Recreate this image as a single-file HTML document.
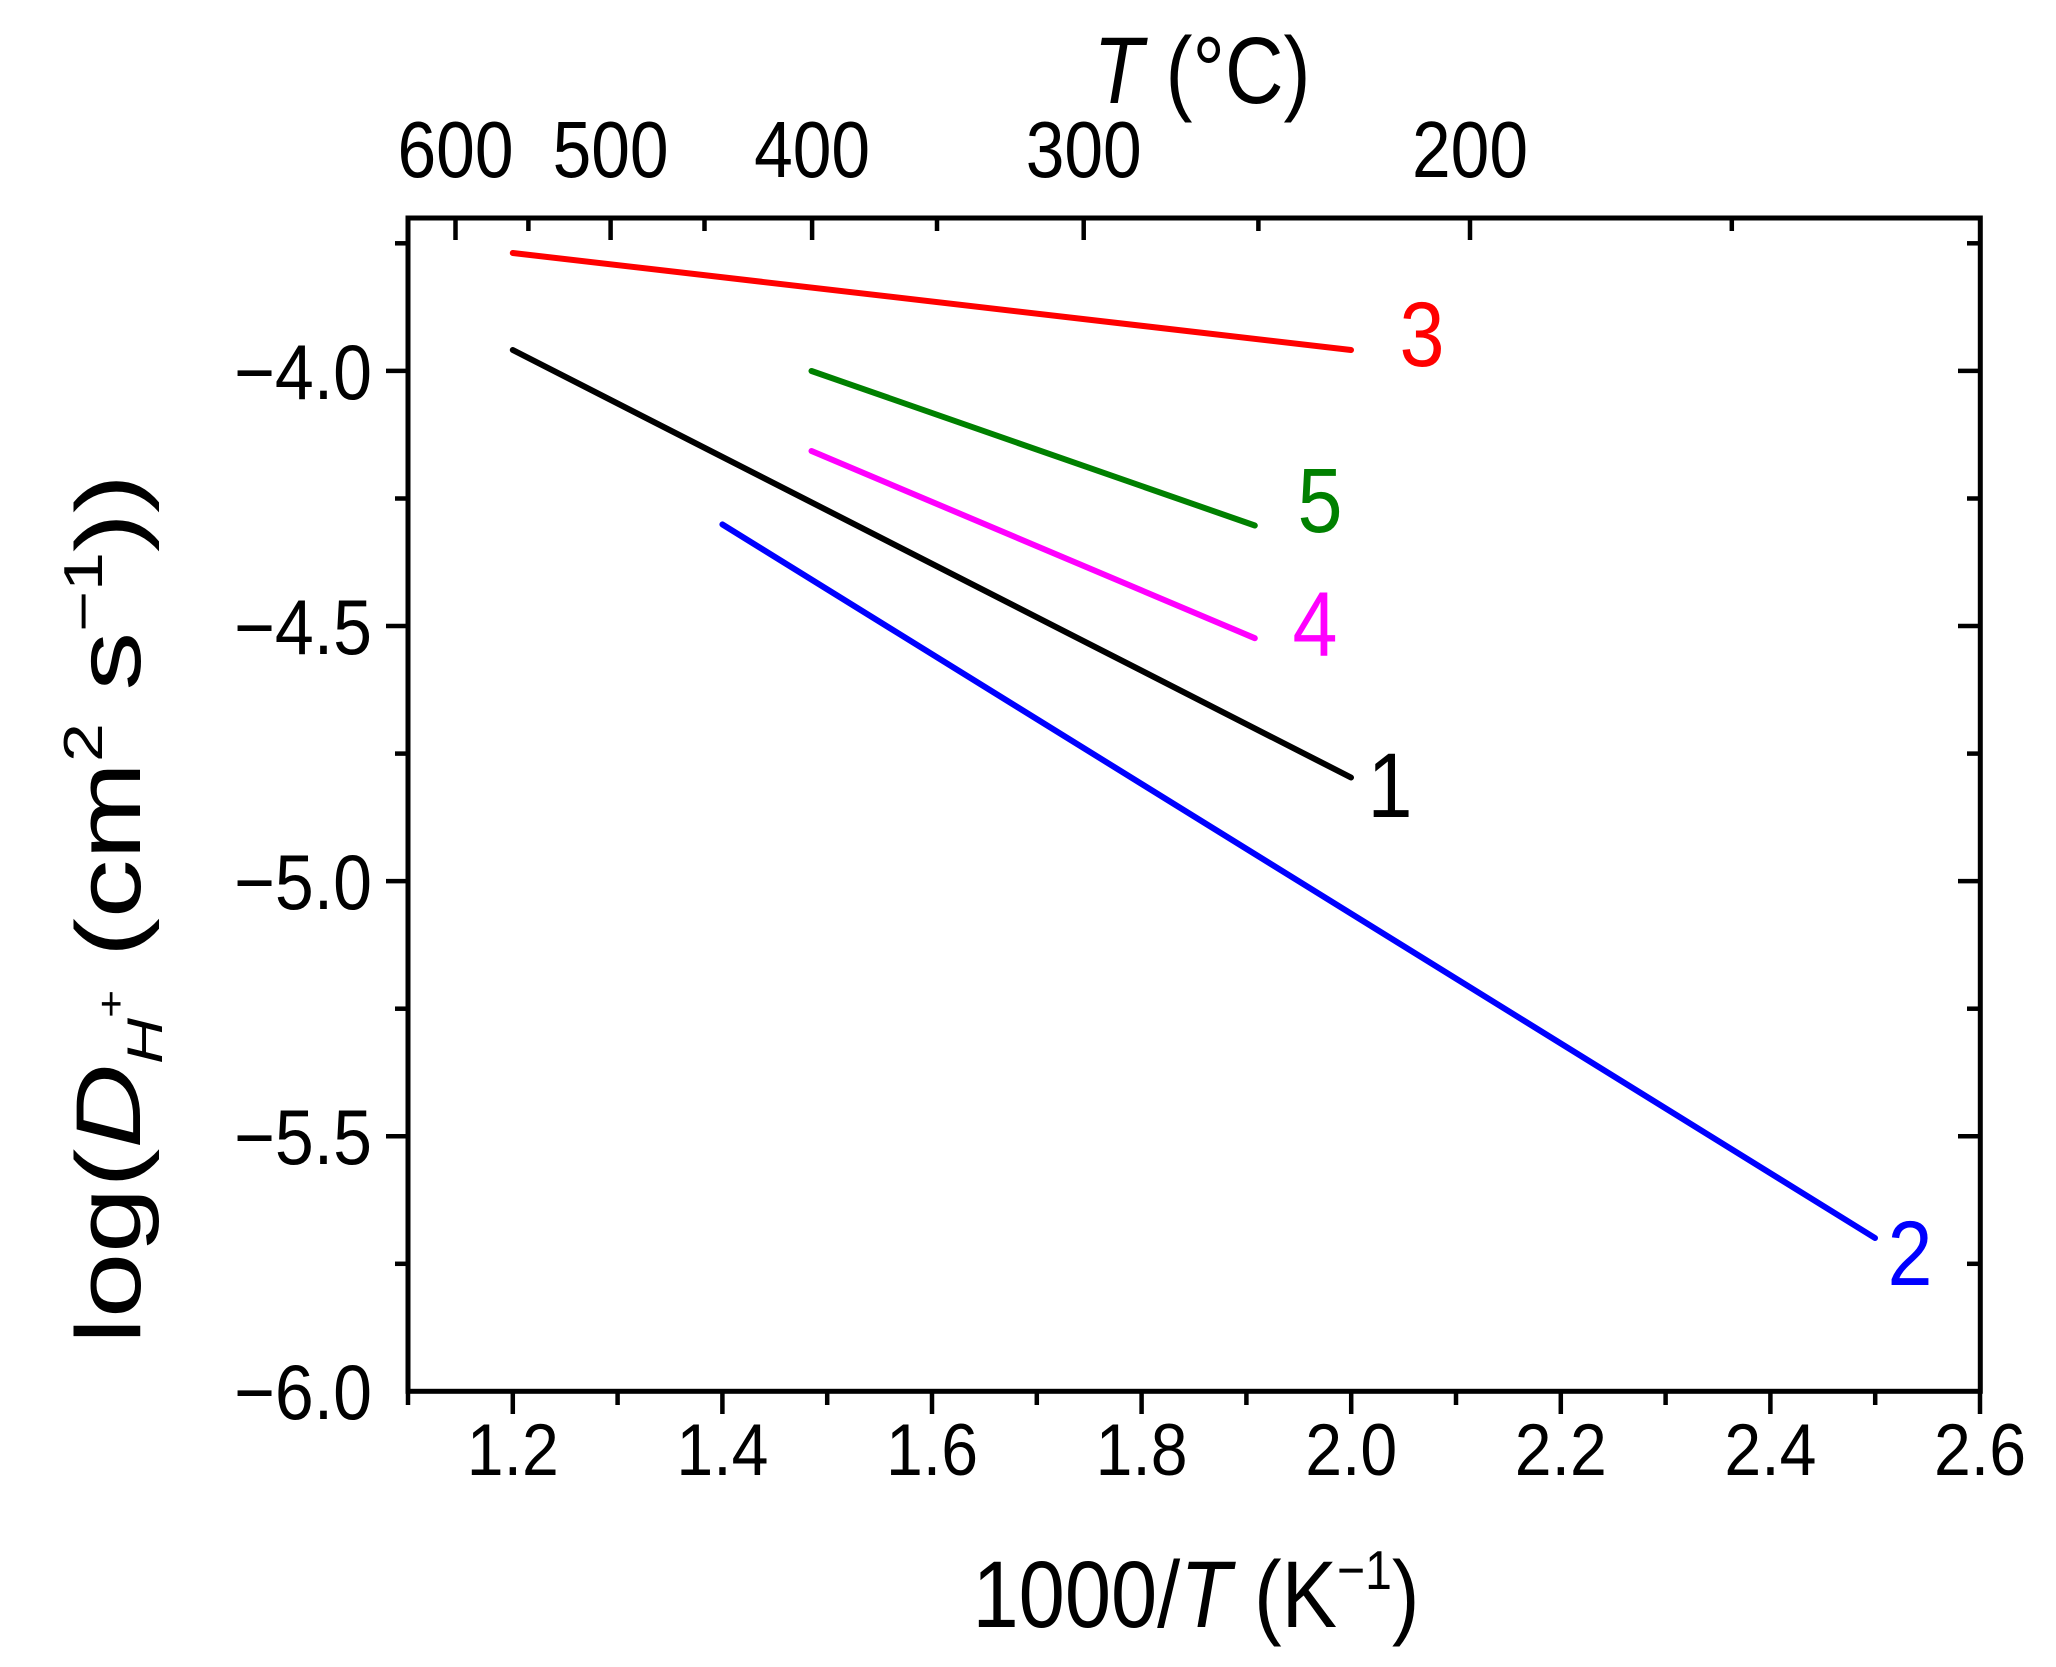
<!DOCTYPE html>
<html><head><meta charset="utf-8"><style>html,body{margin:0;padding:0;background:#fff}svg{display:block}</style></head>
<body>
<svg width="2056" height="1667" viewBox="0 0 2056 1667" xmlns="http://www.w3.org/2000/svg" font-family="Liberation Sans, Arial, sans-serif">
<rect width="2056" height="1667" fill="#fff"/>
<g stroke-width="6" stroke-linecap="round" fill="none">
<line x1="512.8" y1="253" x2="1351" y2="350" stroke="#ff0000"/>
<line x1="512.8" y1="350" x2="1351" y2="777.5" stroke="#000"/>
<line x1="811.5" y1="371" x2="1254.8" y2="525.5" stroke="#008000"/>
<line x1="811.5" y1="451" x2="1254.8" y2="638.2" stroke="#ff00ff"/>
<line x1="722.4" y1="524.4" x2="1875" y2="1238" stroke="#0000ff"/>
</g>
<rect x="408" y="218" width="1572.3" height="1173.3" fill="none" stroke="#000" stroke-width="5"/>
<g stroke="#000" stroke-width="4.5">
<line x1="408" y1="1391" x2="408" y2="1405"/>
<line x1="512.8" y1="1391" x2="512.8" y2="1414"/>
<line x1="617.6" y1="1391" x2="617.6" y2="1405"/>
<line x1="722.4" y1="1391" x2="722.4" y2="1414"/>
<line x1="827.2" y1="1391" x2="827.2" y2="1405"/>
<line x1="932" y1="1391" x2="932" y2="1414"/>
<line x1="1036.8" y1="1391" x2="1036.8" y2="1405"/>
<line x1="1141.6" y1="1391" x2="1141.6" y2="1414"/>
<line x1="1246.4" y1="1391" x2="1246.4" y2="1405"/>
<line x1="1351.2" y1="1391" x2="1351.2" y2="1414"/>
<line x1="1456" y1="1391" x2="1456" y2="1405"/>
<line x1="1560.8" y1="1391" x2="1560.8" y2="1414"/>
<line x1="1665.6" y1="1391" x2="1665.6" y2="1405"/>
<line x1="1770.4" y1="1391" x2="1770.4" y2="1414"/>
<line x1="1875.2" y1="1391" x2="1875.2" y2="1405"/>
<line x1="1980" y1="1391" x2="1980" y2="1414"/>
<line x1="408" y1="243.3" x2="395" y2="243.3"/>
<line x1="408" y1="370.9" x2="386" y2="370.9"/>
<line x1="408" y1="498.5" x2="395" y2="498.5"/>
<line x1="408" y1="626" x2="386" y2="626"/>
<line x1="408" y1="753.6" x2="395" y2="753.6"/>
<line x1="408" y1="881.1" x2="386" y2="881.1"/>
<line x1="408" y1="1008.7" x2="395" y2="1008.7"/>
<line x1="408" y1="1136.2" x2="386" y2="1136.2"/>
<line x1="408" y1="1263.8" x2="395" y2="1263.8"/>
<line x1="1980" y1="243.3" x2="1967" y2="243.3"/>
<line x1="1980" y1="370.9" x2="1958" y2="370.9"/>
<line x1="1980" y1="498.5" x2="1967" y2="498.5"/>
<line x1="1980" y1="626" x2="1958" y2="626"/>
<line x1="1980" y1="753.6" x2="1967" y2="753.6"/>
<line x1="1980" y1="881.1" x2="1958" y2="881.1"/>
<line x1="1980" y1="1008.7" x2="1967" y2="1008.7"/>
<line x1="1980" y1="1136.2" x2="1958" y2="1136.2"/>
<line x1="1980" y1="1263.8" x2="1967" y2="1263.8"/>
<line x1="455.5" y1="218" x2="455.5" y2="240"/>
<line x1="528.4" y1="218" x2="528.4" y2="231"/>
<line x1="610.6" y1="218" x2="610.6" y2="240"/>
<line x1="704.5" y1="218" x2="704.5" y2="231"/>
<line x1="812.1" y1="218" x2="812.1" y2="240"/>
<line x1="937" y1="218" x2="937" y2="231"/>
<line x1="1083.7" y1="218" x2="1083.7" y2="240"/>
<line x1="1258.4" y1="218" x2="1258.4" y2="231"/>
<line x1="1470" y1="218" x2="1470" y2="240"/>
<line x1="1731.8" y1="218" x2="1731.8" y2="231"/>
</g>
<g font-size="73" text-anchor="middle" fill="#000">
<text x="512.8" y="1475" textLength="92" lengthAdjust="spacingAndGlyphs">1.2</text>
<text x="722.4" y="1475" textLength="92" lengthAdjust="spacingAndGlyphs">1.4</text>
<text x="932" y="1475" textLength="92" lengthAdjust="spacingAndGlyphs">1.6</text>
<text x="1141.6" y="1475" textLength="92" lengthAdjust="spacingAndGlyphs">1.8</text>
<text x="1351.2" y="1475" textLength="92" lengthAdjust="spacingAndGlyphs">2.0</text>
<text x="1560.8" y="1475" textLength="92" lengthAdjust="spacingAndGlyphs">2.2</text>
<text x="1770.4" y="1475" textLength="92" lengthAdjust="spacingAndGlyphs">2.4</text>
<text x="1980" y="1475" textLength="92" lengthAdjust="spacingAndGlyphs">2.6</text>
</g>
<g font-size="80" text-anchor="middle" fill="#000">
<text x="455.5" y="177" textLength="116" lengthAdjust="spacingAndGlyphs">600</text>
<text x="610.6" y="177" textLength="116" lengthAdjust="spacingAndGlyphs">500</text>
<text x="812.1" y="177" textLength="116" lengthAdjust="spacingAndGlyphs">400</text>
<text x="1083.7" y="177" textLength="116" lengthAdjust="spacingAndGlyphs">300</text>
<text x="1470" y="177" textLength="116" lengthAdjust="spacingAndGlyphs">200</text>
</g>
<g font-size="78" text-anchor="end" fill="#000">
<text x="372" y="399" textLength="138" lengthAdjust="spacingAndGlyphs">−4.0</text>
<text x="372" y="654" textLength="138" lengthAdjust="spacingAndGlyphs">−4.5</text>
<text x="372" y="909" textLength="138" lengthAdjust="spacingAndGlyphs">−5.0</text>
<text x="372" y="1164" textLength="138" lengthAdjust="spacingAndGlyphs">−5.5</text>
<text x="372" y="1419" textLength="138" lengthAdjust="spacingAndGlyphs">−6.0</text>
</g>
<text x="1196" y="1627" font-size="95" text-anchor="middle" textLength="447" lengthAdjust="spacingAndGlyphs">1000/<tspan font-style="italic">T</tspan> (K<tspan font-size="55" dy="-38">−1</tspan><tspan dy="38">)</tspan></text>
<text x="1202" y="103" font-size="95" text-anchor="middle" textLength="217" lengthAdjust="spacingAndGlyphs"><tspan font-style="italic">T</tspan> (°C)</text>
<text transform="translate(140,909) rotate(-90)" font-size="92" text-anchor="middle" textLength="870" lengthAdjust="spacingAndGlyphs">log(<tspan font-style="italic">D</tspan><tspan font-size="50" font-style="italic" dy="22">H</tspan><tspan font-size="38" dy="-38">+</tspan><tspan dy="16"> (cm</tspan><tspan font-size="55" dy="-38">2</tspan><tspan dy="38"> s</tspan><tspan font-size="55" dy="-38">−1</tspan><tspan dy="38">))</tspan></text>
<g font-size="92" text-anchor="middle">
<text x="1422" y="366" fill="#ff0000" textLength="45" lengthAdjust="spacingAndGlyphs">3</text>
<text x="1320" y="532" fill="#008000" textLength="45" lengthAdjust="spacingAndGlyphs">5</text>
<text x="1315" y="656" fill="#ff00ff" textLength="45" lengthAdjust="spacingAndGlyphs">4</text>
<text x="1390" y="817" fill="#000" textLength="45" lengthAdjust="spacingAndGlyphs">1</text>
<text x="1910" y="1285" fill="#0000ff" textLength="45" lengthAdjust="spacingAndGlyphs">2</text>
</g>
</svg>
</body></html>
